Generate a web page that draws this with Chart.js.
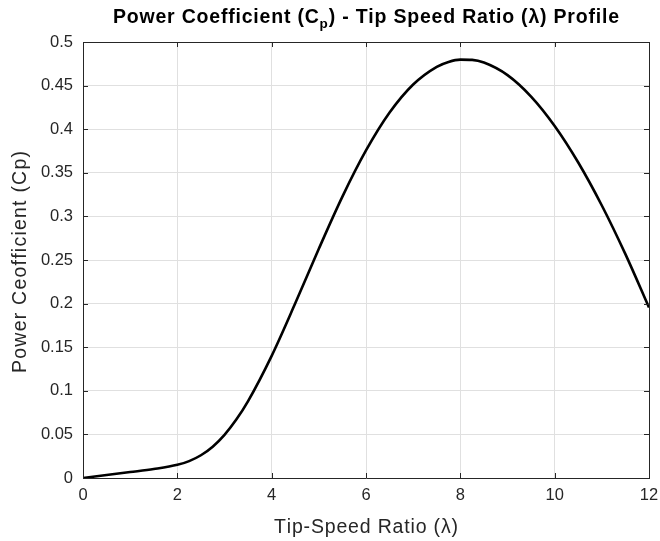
<!DOCTYPE html>
<html>
<head>
<meta charset="utf-8">
<title>Cp - lambda profile</title>
<script src="https://cdn.jsdelivr.net/npm/chart.js@4.4.1/dist/chart.umd.min.js"></script>
<style>
  html, body { margin: 0; padding: 0; background: #fff; }
  canvas { display: block; }
</style>
</head>
<body>
<canvas id="cpChart" width="660" height="541"></canvas>
<script>
// values
const lambda = [0, 0.5, 1, 1.5, 2, 2.25, 2.5, 2.75, 3, 3.25, 3.5, 4, 4.5, 5, 5.5, 6, 6.5, 7, 7.5, 7.75, 8, 8.25, 8.5, 9, 9.5, 10, 10.5, 11, 11.5, 12];
const cp = [0, 0.0034, 0.0068, 0.0103, 0.0151, 0.0194, 0.0261, 0.0359, 0.0495, 0.0670, 0.0882, 0.1401, 0.2003, 0.2629, 0.3227, 0.3756, 0.4191, 0.4513, 0.4716, 0.4772, 0.4798, 0.4795, 0.4764, 0.4620, 0.4374, 0.4037, 0.3618, 0.3125, 0.2567, 0.1955];

const xTicks = [0, 2, 4, 6, 8, 10, 12];
const yTicks = [0, 0.05, 0.1, 0.15, 0.2, 0.25, 0.3, 0.35, 0.4, 0.45, 0.5];

const titleParts = ['Power Coefficient (C', 'p', ') - Tip Speed Ratio (\u03bb) Profile'];
const xLabel = 'Tip-Speed Ratio (\u03bb)';
const yLabel = 'Power Ceofficient (Cp)';

const FONT = '"Liberation Sans", Arial, Helvetica, sans-serif';
const AXIS = '#262626';

// draws text pieces char by char, spread to a given width (MATLAB text runs a bit wide)
function drawSpread(ctx, pieces, cx, baseY, width) {
    let chars = [], natural = 0;
    pieces.forEach(p => {
        ctx.font = p.font;
        for (const ch of p.text) {
            const w = ctx.measureText(ch).width;
            chars.push({ ch, w, font: p.font, dy: p.dy || 0 });
            natural += w;
        }
    });
    const gap = (width - natural) / (chars.length - 1);
    let x = cx - width / 2;
    chars.forEach(c => {
        ctx.font = c.font;
        ctx.fillText(c.ch, x, baseY + c.dy);
        x += c.w + gap;
    });
}

const matlabAxes = {
    id: 'matlabAxes',
    afterDraw(chart) {
        const { ctx, chartArea: a, scales: { x, y } } = chart;
        ctx.save();
        ctx.strokeStyle = AXIS;
        ctx.lineWidth = 1;
        ctx.beginPath();
        // top and right edges of the box
        ctx.moveTo(a.left + 0.5, a.top + 0.5);
        ctx.lineTo(a.right + 0.5, a.top + 0.5);
        ctx.lineTo(a.right + 0.5, a.bottom + 0.5);
        // inward tick marks on all four sides
        xTicks.forEach(v => {
            const px = Math.round(x.getPixelForValue(v)) + 0.5;
            ctx.moveTo(px, a.bottom); ctx.lineTo(px, a.bottom - 5);
            ctx.moveTo(px, a.top); ctx.lineTo(px, a.top + 5);
        });
        yTicks.forEach(v => {
            const py = Math.round(y.getPixelForValue(v)) + 0.5;
            ctx.moveTo(a.left, py); ctx.lineTo(a.left + 5, py);
            ctx.moveTo(a.right, py); ctx.lineTo(a.right - 5, py);
        });
        ctx.stroke();

        ctx.fillStyle = '#000';
        ctx.textBaseline = 'alphabetic';
        ctx.textAlign = 'left';
        const cx = (a.left + a.right) / 2;

        // title with subscript p
        drawSpread(ctx, [
            { text: titleParts[0], font: 'bold 19.5px ' + FONT },
            { text: titleParts[1], font: 'bold 13.5px ' + FONT, dy: 5 },
            { text: titleParts[2], font: 'bold 19.5px ' + FONT }
        ], cx, 23, 506);

        ctx.fillStyle = AXIS;
        drawSpread(ctx, [{ text: xLabel, font: '19.5px ' + FONT }], cx, 533, 184);

        ctx.translate(26, 262);
        ctx.rotate(-Math.PI / 2);
        drawSpread(ctx, [{ text: yLabel, font: '19.5px ' + FONT }], 0, 0, 222);
        ctx.restore();
    }
};

new Chart(document.getElementById('cpChart'), {
    type: 'line',
    data: {
        datasets: [{
            label: 'Cp',
            data: lambda.map((l, i) => ({ x: l, y: cp[i] })),
            borderColor: '#000',
            borderWidth: 2.6,
            pointRadius: 0,
            cubicInterpolationMode: 'monotone',
            fill: false
        }]
    },
    options: {
        responsive: false,
        animation: false,
        devicePixelRatio: 1,
        layout: { padding: { top: 42, right: 11, left: 0, bottom: 0 } },
        plugins: {
            legend: { display: false },
            tooltip: { enabled: false }
        },
        scales: {
            x: {
                type: 'linear',
                min: 0,
                max: 12,
                afterFit: s => { s.height = 63; s.paddingLeft = 0; s.paddingRight = 0; },
                afterBuildTicks: s => { s.ticks = xTicks.map(v => ({ value: v })); },
                ticks: {
                    color: AXIS,
                    font: { family: FONT, size: 16.5 },
                    padding: 8,
                    maxRotation: 0,
                    callback: v => String(v)
                },
                grid: { color: '#e0e0e0', drawTicks: false },
                border: { color: AXIS, width: 1 }
            },
            y: {
                type: 'linear',
                min: 0,
                max: 0.5,
                afterFit: s => { s.width = 83; s.paddingTop = 0; s.paddingBottom = 0; },
                afterBuildTicks: s => { s.ticks = yTicks.map(v => ({ value: v })); },
                ticks: {
                    color: AXIS,
                    font: { family: FONT, size: 16.5 },
                    padding: 10,
                    callback: v => String(+v.toFixed(2))
                },
                grid: { color: '#e0e0e0', drawTicks: false },
                border: { color: AXIS, width: 1 }
            }
        }
    },
    plugins: [matlabAxes]
});
</script>
</body>
</html>
